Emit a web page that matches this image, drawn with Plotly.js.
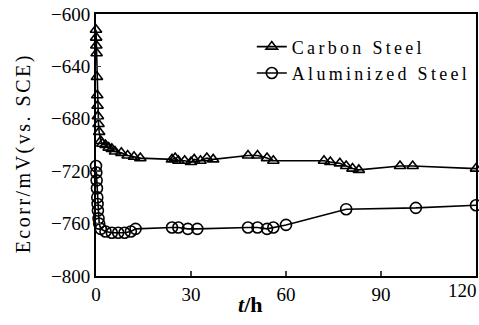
<!DOCTYPE html>
<html><head><meta charset="utf-8">
<script src="https://cdn.plot.ly/plotly-3.0.1.min.js"></script>
<style>html,body{margin:0;padding:0;background:#fff}#c{width:479px;height:325px}
.legendtext{letter-spacing:3.3px}
.spaced text{letter-spacing:2.5px}</style>
</head><body><div id="c"></div>
<script>
const carbonT = [0, 0.05, 0.1, 0.2, 0.3, 0.4, 0.5, 0.6, 0.8, 1, 1.5, 2, 3, 4, 5, 6, 8, 10, 12, 14, 24, 25, 26, 28, 30, 31, 33, 35, 37, 48, 51, 54, 56, 72, 74, 77, 79, 81, 83, 96, 100, 120];
const carbonE = [-612, -618, -624, -630, -648, -662, -670, -678, -684, -690, -697, -699, -700, -702, -703, -705, -706, -708, -709, -710, -711, -710, -712, -712, -713, -711, -712, -710, -711, -708, -708, -710, -712, -712, -713, -714, -716, -718, -719, -716, -716, -718];
const alumT = [0, 0.1, 0.2, 0.3, 0.4, 0.5, 0.6, 0.8, 1, 1.5, 3, 5, 7, 9, 11, 12.5, 24, 26, 29, 32, 48, 51, 54, 56, 60, 79, 101, 120];
const alumE = [-716, -721, -727, -733, -740, -745, -750, -756, -760, -764, -766, -767, -767, -767, -766, -764, -763, -763, -764, -764, -763, -763, -764, -763, -761, -749, -748, -746];
const xTicks = [0, 30, 60, 90, 120];
const xTickText = ['0', '30', '60', '90', ''];
const yTicks = [-800, -760, -720, -680, -640, -600];

const serif = 'Liberation Serif, Times New Roman, serif';
const traces = [
  {x: carbonT, y: carbonE, name: 'Carbon Steel', mode: 'lines+markers', cliponaxis: false,
   line: {color: '#000', width: 1.6},
   marker: {symbol: 'triangle-up-open', size: 10, color: '#000', line: {width: 1.6}}},
  {x: alumT, y: alumE, name: 'Aluminized Steel', mode: 'lines+markers', cliponaxis: false,
   line: {color: '#000', width: 1.6},
   marker: {symbol: 'circle-open', size: 11, color: '#000', line: {width: 1.6}}}
];
const layout = {
  width: 479, height: 325,
  margin: {l: 96, r: 3, t: 14, b: 49},
  paper_bgcolor: '#fff', plot_bgcolor: '#fff',
  font: {family: serif, size: 19, color: '#000'},
  showlegend: true,
  legend: {x: 0.41, y: 0.945, xanchor: 'left', yanchor: 'top', bgcolor: 'rgba(0,0,0,0)',
           font: {family: serif, size: 18, color: '#000'}, tracegroupgap: 0, itemwidth: 30},
  xaxis: {range: [0, 120], tickvals: xTicks, ticktext: xTickText, ticks: 'inside', ticklen: 5, tickwidth: 1.5,
          showline: true, linecolor: '#000', linewidth: 2, mirror: true, showgrid: false, zeroline: false,
          tickfont: {family: serif, size: 19, color: '#000'}},
  yaxis: {range: [-800, -600], tickvals: yTicks, ticks: 'inside', ticklen: 5, tickwidth: 1.5,
          showline: true, linecolor: '#000', linewidth: 2, mirror: true, showgrid: false, zeroline: false,
          tickfont: {family: serif, size: 19, color: '#000'}},
  annotations: [
    {text: '120', xref: 'paper', yref: 'paper', x: 1, y: 0, xanchor: 'right', yanchor: 'top',
     xshift: 3, yshift: -2, showarrow: false, font: {family: serif, size: 19, color: '#000'}},
    {text: '<i>t</i>/h', xref: 'paper', yref: 'paper', x: 0.405, y: -0.11, xanchor: 'center', yanchor: 'middle',
     showarrow: false, font: {family: serif, size: 22, color: '#000', weight: 'bold'}},
    {text: 'Ecorr/mV(vs. SCE)', xref: 'paper', yref: 'paper', x: 0, y: 0.469, xshift: -73,
     xanchor: 'center', yanchor: 'middle', textangle: -90, showarrow: false,
     font: {family: serif, size: 20, color: '#000'}}
  ]
};
Plotly.newPlot('c', traces, layout, {staticPlot: true, displayModeBar: false}).then(function(){
  var anns = document.querySelectorAll('.annotation');
  if (anns.length) anns[anns.length-1].classList.add('spaced');
});
</script></body></html>
